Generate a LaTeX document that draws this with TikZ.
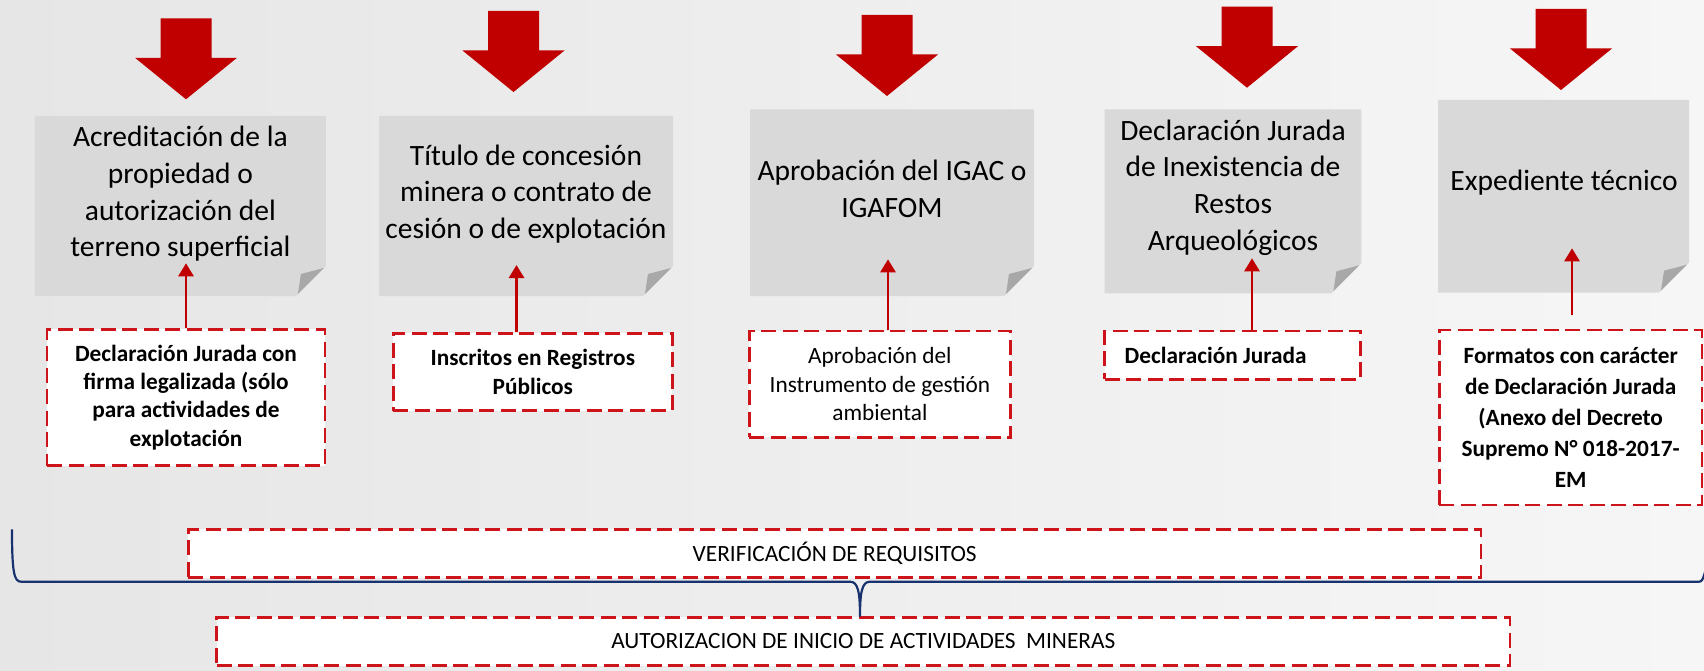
\documentclass[tikz,border=0pt]{standalone}
\usepackage{fontspec}
\setmainfont{Carlito}
\usetikzlibrary{arrows.meta, positioning, calc}
\definecolor{bigred}{RGB}{192,0,0}
\definecolor{dashred}{RGB}{204,20,26}
\definecolor{notegray}{RGB}{217,217,217}
\definecolor{foldgray}{RGB}{168,168,168}
\definecolor{bgleft}{RGB}{230,230,230}
\definecolor{bgright}{RGB}{246,246,246}
\definecolor{bracenavy}{RGB}{24,50,112}

% gray sheet with the lower right corner folded
\newcommand{\notepage}[4]{%
  \fill[notegray] (#1,#2) -- (#3,#2) -- (#3,{#4-30}) -- ({#3-30},#4) -- (#1,#4) -- cycle;
  \fill[foldgray] ({#3-25},{#4-22}) -- ({#3-2},{#4-28}) -- ({#3-28},{#4-2}) -- cycle;
}

\begin{document}
\begin{tikzpicture}[x=1pt, y=-1pt,
  notetext/.style={font=\fontsize{29.5}{36.7}\selectfont, align=center, inner sep=0},
  reqbox/.style={draw=dashred, line width=2.6pt, dash pattern=on 15pt off 6.5pt,
    fill=white, align=center, inner sep=0, font=\fontsize{23.3}{28.3}\selectfont\bfseries},
  stagebox/.style={reqbox, font=\fontsize{23.3}{28.3}\selectfont},
  uparrow/.style={draw=bigred, line width=2.8pt, -{Triangle[width=15pt, length=13pt]}}]
  \useasboundingbox (0,0) rectangle (1704,671);
  \shade[left color=bgleft, middle color=bgright, right color=bgright] (0,0) rectangle (1704,671);

  % Sheets
  \notepage{34.8}{116}{325.9}{296}
  \notepage{379}{116}{673}{296}
  \notepage{750}{109.3}{1034}{296}
  \notepage{1104.7}{109.3}{1361.4}{293.3}
  \notepage{1438}{100}{1689}{292.7}

  % Big arrows
  \foreach \cx/\ytop in {186/18.3, 513.5/11, 887/15, 1247/6.7, 1561/9}{
    \fill[bigred] (\cx-25.5,\ytop) -- (\cx+25.5,\ytop) -- (\cx+25.5,\ytop+39.5)
      -- (\cx+51,\ytop+39.5) -- (\cx,\ytop+81) -- (\cx-51,\ytop+39.5)
      -- (\cx-25.5,\ytop+39.5) -- cycle;
  }

  % Sheet texts
  \node[notetext] (n1) at (180.4,194) {Acreditación de la\\propiedad o\\autorización del\\terreno superficial};
  \node[notetext] (n2) at (526,194) {Título de concesión\\minera o contrato de\\cesión o de explotación};
  \node[notetext] (n3) at (892,189) {Aprobación del IGAC o\\IGAFOM};
  \node[notetext] (n4) at (1233,187.5) {Declaración Jurada\\de Inexistencia de\\Restos\\Arqueológicos};
  \node[notetext] (n5) at (1564,182.5) {Expediente técnico};

  % Requirement boxes
  \node[reqbox, minimum width=278, minimum height=136.4] (d1) at (186,397.5)
    {Declaración Jurada con\\firma legalizada (sólo\\para actividades de\\explotación};
  \node[reqbox, minimum width=279, minimum height=77.4] (d2) at (532.8,372)
    {Inscritos en Registros\\Públicos};
  \node[stagebox, minimum width=261.2, minimum height=106.3] (d3) at (879.9,384.2)
    {Aprobación del\\Instrumento de gestión\\ambiental};
  \node[reqbox, minimum width=256.1, minimum height=48.3, text width=216, align=flush left] (d4) at (1232.7,355.2)
    {Declaración Jurada};
  \node[reqbox, minimum width=262.5, minimum height=175, font=\fontsize{23.3}{30.8}\selectfont\bfseries] (d5) at (1570.7,417.5)
    {Formatos con carácter\\de Declaración Jurada\\(Anexo del Decreto\\Supremo N° 018-2017-\\EM};

  % Arrow tips inside the sheets
  \coordinate (c1) at (186,263.3);
  \coordinate (c2) at (516.5,265);
  \coordinate (c3) at (888,259.3);
  \coordinate (c4) at (1252,258.3);
  \coordinate (c5) at (1572,248.3);
  \draw[uparrow] (d1.north -| c1) -- (c1);
  \draw[uparrow] (d2.north -| c2) -- (c2);
  \draw[uparrow] (d3.north -| c3) -- (c3);
  \draw[uparrow] (d4.north -| c4) -- (c4);
  \draw[uparrow] ($(d5.north -| c5)+(0,-13.3)$) -- (c5);

  % Stages
  \node[stagebox, minimum width=1292.6, minimum height=48.4] (verif) at (834.7,553.5) {VERIFICACIÓN DE REQUISITOS};
  \node[stagebox, minimum width=1293.5, minimum height=48.4] (auth) at (863.3,641.5) {AUTORIZACION DE INICIO DE ACTIVIDADES~ MINERAS};

  % Brace
  \draw[bracenavy, line width=2.2pt] (12,529.3) .. controls (12,572) and (14,581.7) .. (21,581.7)
    -- (850,581.7) .. controls (858,581.7) and (860,592) .. (860,616.7)
    .. controls (860,592) and (862,581.7) .. (870,581.7)
    -- (1699,581.7) .. controls (1702,581.7) and (1703,579) .. (1705,572);
\end{tikzpicture}
\end{document}
